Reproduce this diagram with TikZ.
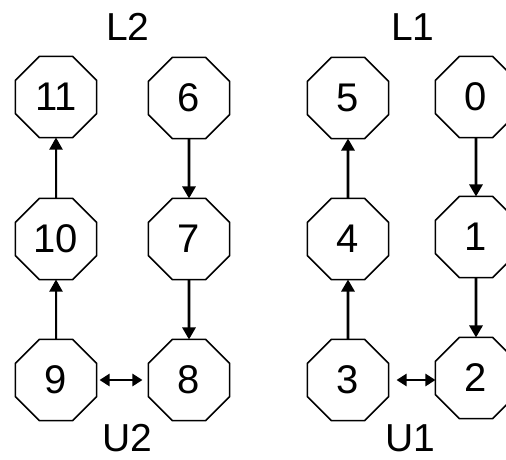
\documentclass[tikz,border=0pt]{standalone}
\usepackage{fontspec}
\setmainfont{Liberation Sans}
\usetikzlibrary{shapes.geometric,arrows.meta}
\tikzset{
  oct/.style={regular polygon, regular polygon sides=8, draw, line width=1.5pt,
    fill=white, inner sep=0pt, minimum size=87.7pt, outer sep=0pt,
    font=\fontsize{40}{40}\selectfont},
  lbl/.style={font=\fontsize{39}{39}\selectfont, inner sep=0pt},
  link/.style={line width=2.8pt, -{Triangle[length=12pt,width=13pt]}},
  thinlink/.style={line width=2pt, -{Triangle[length=12pt,width=13pt]}},
  twoway/.style={line width=2.8pt, {Triangle[length=10pt,width=12pt]}-{Triangle[length=10pt,width=12pt]}}
}
\begin{document}
\begin{tikzpicture}[x=1pt,y=-1pt]
  \useasboundingbox (0,0) rectangle (506,459);
  \fill[white] (0,0) rectangle (506,459);
  % top row
  \node[oct] (n11) at (56,97) {11};
  \node[oct] (n6)  at (189,98) {6};
  \node[oct] (n5)  at (348,98) {5};
  \node[oct] (n0)  at (476,97) {0};
  % middle row
  \node[oct] (n10) at (56,239) {10};
  \node[oct] (n7)  at (189,239) {7};
  \node[oct] (n4)  at (348,239) {4};
  \node[oct] (n1)  at (476,237) {1};
  % bottom row
  \node[oct] (n9)  at (56,380) {9};
  \node[oct] (n8)  at (189,380) {8};
  \node[oct] (n3)  at (348,380) {3};
  \node[oct] (n2)  at (476,378) {2};
  % group labels
  \node[lbl] (l2) at (128,27) {L2};
  \node[lbl] (l1) at (413,27) {L1};
  \node[lbl] (u2) at (127,438) {U2};
  \node[lbl] (u1) at (410,438) {U1};
  % rings
  \draw[thinlink] (n10) -- (n11);
  \draw[thinlink] (n9) -- (n10);
  \draw[link] (n6) -- (n7);
  \draw[link] (n7) -- (n8);
  \draw[link] (n3) -- (n4);
  \draw[link] (n4) -- (n5);
  \draw[link] (n0) -- (n1);
  \draw[link] (n1) -- (n2);
  \draw[twoway, shorten <=3pt, shorten >=6pt] (n9.east) -- (n9.east -| n8.west);
  \draw[twoway, shorten <=8pt] (n3.east) -- (n3.east -| n2.west);
\end{tikzpicture}
\end{document}
